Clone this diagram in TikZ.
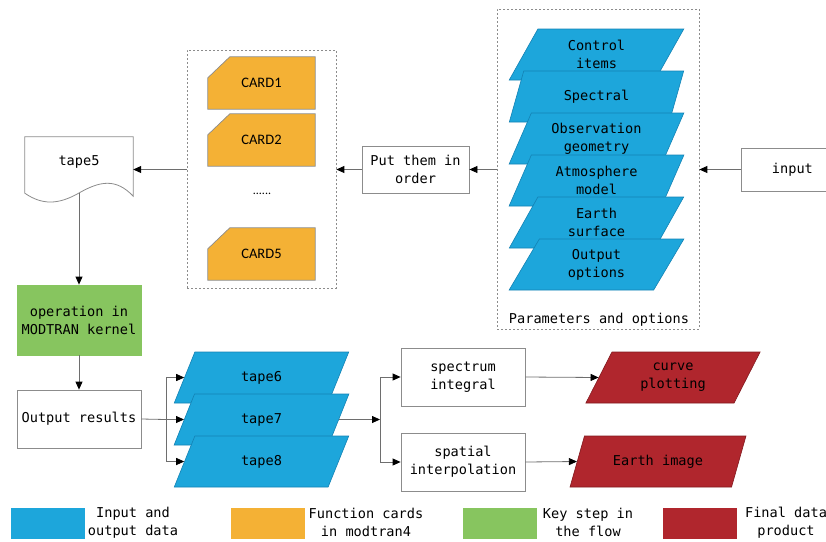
\documentclass[tikz,border=0pt]{standalone}
\usepackage{fontspec}
\setmainfont{DejaVu Sans Mono}
\newfontfamily\cardfont{Carlito}
\usetikzlibrary{shapes.geometric,arrows.meta}
\definecolor{cblue}{RGB}{29,166,219}
\definecolor{cblueline}{RGB}{20,130,180}
\definecolor{corange}{RGB}{244,177,53}
\definecolor{cgreen}{RGB}{135,197,95}
\definecolor{cred}{RGB}{176,38,45}
\definecolor{credline}{RGB}{130,25,30}
\definecolor{cline}{RGB}{110,110,110}
\definecolor{cborder}{RGB}{140,140,140}
\begin{document}
\begin{tikzpicture}[x=1pt,y=-1pt,
  font=\fontsize{13.6}{18}\selectfont,
  box/.style={draw=cborder, line width=0.8pt, fill=white, align=center, inner sep=0pt},
  container/.style={draw=cborder, line width=0.7pt, dash pattern=on 2pt off 2pt, inner sep=0pt},
  para/.style={trapezium, trapezium stretches=true, trapezium left angle=63.9, trapezium right angle=116.1,
    minimum width=175pt, minimum height=51pt, inner sep=0pt, align=center, line width=0.6pt},
  bluepara/.style={para, fill=cblue, draw=cblueline},
  redpara/.style={para, fill=cred, draw=credline},
  cardanchor/.style={minimum width=107pt, minimum height=52pt, inner sep=0pt},
  cardshape/.style={fill=corange, draw=cborder, line width=0.7pt},
  cardtext/.style={inner sep=0pt, font=\cardfont\fontsize{14.5}{18}\selectfont},
  legbox/.style={minimum width=75pt, minimum height=32pt, inner sep=0pt, draw=white, line width=0.8pt},
  legtext/.style={align=center, inner sep=0pt},
  arr/.style={draw=cline, line width=0.8pt, -{Triangle[length=8pt,width=7pt,color=black]}},
  ln/.style={draw=cline, line width=0.8pt}]
\useasboundingbox (0,0) rectangle (826,541);

% ---- containers
\node[container, minimum width=149pt, minimum height=238pt] (cards) at (261.5,169) {};
\node[container, minimum width=202pt, minimum height=320pt] (params) at (598,169) {};

% ---- cards
\foreach \n/\yy/\lab in {c1/83/CARD1, c2/140/CARD2, c5/254/CARD5}{
  \node[cardanchor] (\n) at (261.5,\yy) {};
  \draw[cardshape] ([yshift=-21pt]\n.north west) -- ([xshift=22pt]\n.north west)
     -- (\n.north east) -- (\n.south east) -- (\n.south west) -- cycle;
  \node[cardtext] (\n t) at (\n) {\lab};
}
\node[font=\cardfont\fontsize{12}{14}\selectfont, inner sep=0pt] (dots) at (262,194) {......};

% ---- parameter stack
\node[bluepara] (p1) at (596.5,54.5) {Control\\items};
\node[bluepara] (p2) at (596.5,96.5) {Spectral};
\node[bluepara] (p3) at (596.5,138.5) {Observation\\geometry};
\node[bluepara] (p4) at (596.5,180.5) {Atmosphere\\model};
\node[bluepara] (p5) at (596.5,222.5) {Earth\\surface};
\node[bluepara] (p6) at (596.5,264.5) {Output\\options};
\node[inner sep=0pt] (plabel) at (599,320) {Parameters and options};

% ---- boxes
\node[box, minimum width=107pt, minimum height=47pt] (put) at (415.5,169.5) {Put them in\\order};
\node[box, minimum width=102pt, minimum height=43pt, anchor=west] (input) at (741,169.5) {input};

% tape5 document shape
\node[minimum width=108pt, minimum height=56pt, inner sep=0pt] (tape5) at (79,165) {};
\draw[draw=cborder, line width=0.8pt, fill=white]
  (tape5.north west) -- (tape5.north east) -- ([yshift=-3pt]tape5.south east)
  .. controls (116,178) and (100,181) .. (79,193)
  .. controls (58,205) and (42,205) .. (tape5.south west) -- cycle;
\node[inner sep=0pt] (tape5t) at (79,162) {tape5};

\node[box, fill=cgreen, draw=cgreen, minimum width=124pt, minimum height=70pt] (kern) at (79,320) {operation in\\MODTRAN kernel};
\node[box, minimum width=124pt, minimum height=58pt] (out) at (79,419) {Output results};

% tapes
\node[bluepara] (t6) at (261.5,377.5) {tape6};
\node[bluepara] (t7) at (261.5,419.5) {tape7};
\node[bluepara] (t8) at (261.5,461.5) {tape8};

\node[box, minimum width=124pt, minimum height=58pt] (spec) at (463,377) {spectrum\\integral};
\node[box, minimum width=124pt, minimum height=58pt] (spat) at (463,462) {spatial\\interpolation};

\node[redpara, minimum width=176pt] (curve) at (673,377.5) {curve\\plotting};
\node[redpara, trapezium left angle=56.3, trapezium right angle=123.7, minimum width=176pt] (earth) at (658,461.5) {Earth image};

% ---- connectors
\draw[arr] (input.west) -- (input.west -| params.east);
\draw[arr] (put.east -| params.west) -- (put.east);
\draw[arr] (put.west) -- (put.west -| cards.east);
\draw[arr] (put.west -| cards.west) -- (put.west -| tape5.east);
\draw[arr] (tape5.south) -- (kern.north);
\draw[arr] (kern.south) -- (out.north);

\coordinate (b1) at (166,419.5);
\draw[ln] (out.east) -- (b1);
\draw[arr] (b1) |- (t6.west);
\draw[arr] (b1) -- (t7.west);
\draw[arr] (b1) |- (t8.west);

\coordinate (b2) at (380,419.5);
\draw[arr] (t7.east) -- (b2);
\draw[arr] (b2) |- (spec.west);
\draw[arr] (b2) |- (spat.west);
\draw[arr] (spec.east) -- (curve.west);
\draw[arr] (spat.east) -- (earth.west);

% ---- legend
\node[legbox, fill=cblue] (l1) at (47.5,523) {};
\node[legtext] (l1t) at (133,522.5) {Input and\\output data};
\node[legbox, fill=corange] (l2) at (267.5,523) {};
\node[legtext] (l2t) at (366,522.5) {Function cards\\in modtran4};
\node[legbox, fill=cgreen] (l3) at (500,523) {};
\node[legtext] (l3t) at (588,522.5) {Key step in\\the flow};
\node[legbox, fill=cred] (l4) at (700,523) {};
\node[legtext] (l4t) at (786,522.5) {Final data\\product};
\end{tikzpicture}
\end{document}
